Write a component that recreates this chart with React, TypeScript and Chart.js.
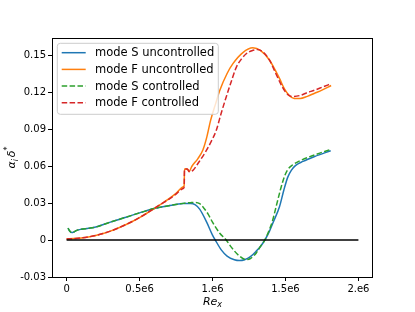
import React, { useEffect, useRef } from "react";
import { Chart, registerables } from "chart.js";

Chart.register(...registerables);

// ---- data (x in units of 1e6) ----
const sUncX = [0.01, 0.02, 0.035, 0.05, 0.07, 0.1, 0.15, 0.2, 0.3, 0.4, 0.5, 0.6, 0.7, 0.8, 0.85, 0.88, 0.912, 0.96, 1.0, 1.019, 1.06, 1.1, 1.15, 1.185, 1.22, 1.26, 1.3, 1.33, 1.359, 1.39, 1.42, 1.459, 1.49, 1.516, 1.54, 1.57, 1.62, 1.7, 1.81];
const sUncY = [0.0097, 0.0075, 0.006, 0.0065, 0.0078, 0.0087, 0.0095, 0.0105, 0.0145, 0.0182, 0.022, 0.0255, 0.0278, 0.0295, 0.0296, 0.0287, 0.025, 0.0145, 0.004, 0, -0.008, -0.013, -0.016, -0.0167, -0.016, -0.0135, -0.009, -0.005, 0, 0.007, 0.0155, 0.027, 0.041, 0.051, 0.0565, 0.0605, 0.0637, 0.0677, 0.0724];

const fUncX = [0, 0.05, 0.1, 0.15, 0.2, 0.25, 0.3, 0.35, 0.4, 0.45, 0.5, 0.55, 0.6, 0.65, 0.7, 0.75, 0.8, 0.806, 0.808, 0.828, 0.838, 0.86, 0.9, 0.934, 0.96, 0.987, 1.02, 1.049, 1.1, 1.14, 1.208, 1.276, 1.33, 1.39, 1.459, 1.493, 1.527, 1.56, 1.6, 1.65, 1.7, 1.75, 1.813];
const fUncY = [0.0008, 0.0012, 0.0017, 0.0025, 0.0037, 0.0053, 0.0072, 0.0095, 0.0122, 0.015, 0.0182, 0.0217, 0.0255, 0.0293, 0.0333, 0.0378, 0.0432, 0.0446, 0.0575, 0.0575, 0.0555, 0.06, 0.066, 0.073, 0.083, 0.097, 0.11, 0.121, 0.135, 0.143, 0.152, 0.1558, 0.1535, 0.146, 0.131, 0.1225, 0.117, 0.1148, 0.1147, 0.1165, 0.119, 0.1215, 0.1253];

const sCtrlX = [0.01, 0.02, 0.035, 0.05, 0.07, 0.1, 0.15, 0.2, 0.3, 0.4, 0.5, 0.6, 0.7, 0.8, 0.85, 0.88, 0.912, 0.94, 0.97, 1.0, 1.05, 1.094, 1.13, 1.18, 1.231, 1.26, 1.3, 1.33, 1.359, 1.39, 1.41, 1.436, 1.465, 1.493, 1.515, 1.545, 1.6, 1.7, 1.81];
const sCtrlY = [0.0097, 0.0075, 0.006, 0.0065, 0.0078, 0.0087, 0.0095, 0.0105, 0.0145, 0.0182, 0.022, 0.0255, 0.0278, 0.0297, 0.0303, 0.0305, 0.0295, 0.026, 0.021, 0.0145, 0.0055, 0, -0.006, -0.0125, -0.0159, -0.015, -0.0105, -0.005, 0, 0.0085, 0.015, 0.027, 0.0405, 0.0515, 0.057, 0.0605, 0.0643, 0.069, 0.0735];

const fCtrlX = [0, 0.05, 0.1, 0.15, 0.2, 0.25, 0.3, 0.35, 0.4, 0.45, 0.5, 0.55, 0.6, 0.65, 0.7, 0.75, 0.8, 0.806, 0.808, 0.826, 0.845, 0.87, 0.9, 0.95, 1.0, 1.026, 1.06, 1.094, 1.13, 1.163, 1.2, 1.231, 1.27, 1.31, 1.35, 1.39, 1.43, 1.47, 1.5, 1.527, 1.55, 1.6, 1.65, 1.7, 1.75, 1.813];
const fCtrlY = [0.0008, 0.0012, 0.0017, 0.0025, 0.0037, 0.0053, 0.0072, 0.0095, 0.0122, 0.015, 0.0182, 0.0217, 0.0255, 0.0293, 0.033, 0.0372, 0.0418, 0.043, 0.0575, 0.0575, 0.0552, 0.057, 0.062, 0.071, 0.082, 0.089, 0.103, 0.116, 0.129, 0.14, 0.147, 0.151, 0.1535, 0.1545, 0.152, 0.146, 0.136, 0.126, 0.12, 0.117, 0.1164, 0.1172, 0.1195, 0.1215, 0.1238, 0.1267];

const zeroX = [0, 2];
const zeroY = [0, 0];

const seriesLabels = ["mode S uncontrolled", "mode F uncontrolled", "mode S controlled", "mode F controlled"];
const seriesColors = ["#1f77b4", "#ff7f0e", "#2ca02c", "#d62728"];
const seriesDashed = [false, false, true, true];

const xTickValues = [0, 0.5, 1, 1.5, 2];
const xTickLabels = ["0", "0.5e6", "1.e6", "1.5e6", "2.e6"];
const yTickValues = [-0.03, 0, 0.03, 0.06, 0.09, 0.12, 0.15];
const yTickLabels = ["-0.03", "0", "0.03", "0.06", "0.09", "0.12", "0.15"];

const FONT = "'DejaVu Sans', sans-serif";

const zip = (xs: number[], ys: number[]) => xs.map((x, i) => ({ x, y: ys[i] }));

const decorPlugin = {
  id: "decor",
  afterDatasetsDraw(chart: any) {
    const ctx = chart.ctx as CanvasRenderingContext2D;
    const a = chart.chartArea;
    ctx.save();
    // frame
    ctx.strokeStyle = "#000";
    ctx.lineWidth = 1;
    ctx.strokeRect(Math.round(a.left) + 0.5, Math.round(a.top) + 0.5, Math.round(a.right - a.left) - 1, Math.round(a.bottom - a.top));

    // legend
    const bx = a.left + 5.3, by = a.top + 5.3, bw = 161, bh = 71;
    ctx.fillStyle = "rgba(255,255,255,0.8)";
    ctx.strokeStyle = "#cccccc";
    ctx.lineWidth = 1;
    ctx.beginPath();
    const r = 3;
    ctx.moveTo(bx + r, by);
    ctx.lineTo(bx + bw - r, by);
    ctx.quadraticCurveTo(bx + bw, by, bx + bw, by + r);
    ctx.lineTo(bx + bw, by + bh - r);
    ctx.quadraticCurveTo(bx + bw, by + bh, bx + bw - r, by + bh);
    ctx.lineTo(bx + r, by + bh);
    ctx.quadraticCurveTo(bx, by + bh, bx, by + bh - r);
    ctx.lineTo(bx, by + r);
    ctx.quadraticCurveTo(bx, by, bx + r, by);
    ctx.closePath();
    ctx.fill();
    ctx.stroke();
    ctx.font = `11.5px ${FONT}`;
    ctx.textBaseline = "middle";
    ctx.textAlign = "left";
    for (let i = 0; i < seriesLabels.length; i++) {
      const yy = by + 9.4 + i * 16.7;
      ctx.strokeStyle = seriesColors[i];
      ctx.lineWidth = 1.5;
      ctx.setLineDash(seriesDashed[i] ? [5.5, 2.4] : []);
      ctx.beginPath();
      ctx.moveTo(bx + 4.4, yy);
      ctx.lineTo(bx + 28.4, yy);
      ctx.stroke();
      ctx.setLineDash([]);
      ctx.fillStyle = "#000";
      ctx.fillText(seriesLabels[i], bx + 37.7, yy + 0.5);
    }

    // x title: Re_x
    ctx.fillStyle = "#000";
    ctx.textBaseline = "alphabetic";
    ctx.textAlign = "left";
    ctx.font = `italic 11px ${FONT}`;
    const reW = ctx.measureText("Re").width;
    ctx.font = `italic 8px ${FONT}`;
    const subW = ctx.measureText("x").width;
    const tw = reW + subW;
    const cx = (a.left + a.right) / 2 - tw / 2;
    ctx.font = `italic 11px ${FONT}`;
    ctx.fillText("Re", cx, 304.5);
    ctx.font = `italic 8px ${FONT}`;
    ctx.fillText("x", cx + reW, 307);

    // y title: alpha_i delta^*
    ctx.translate(15, (a.top + a.bottom) / 2);
    ctx.rotate(-Math.PI / 2);
    ctx.font = `italic 11px ${FONT}`;
    const aw = ctx.measureText("α").width;
    const dw = ctx.measureText("δ").width;
    ctx.font = `italic 8px ${FONT}`;
    const iw = ctx.measureText("i").width;
    const sw = ctx.measureText("*").width;
    const total = aw + iw + 2 + dw + sw;
    let px = -total / 2;
    ctx.font = `italic 11px ${FONT}`;
    ctx.fillText("α", px, 0);
    px += aw;
    ctx.font = `italic 8px ${FONT}`;
    ctx.fillText("i", px, 2.5);
    px += iw + 2;
    ctx.font = `italic 11px ${FONT}`;
    ctx.fillText("δ", px, 0);
    px += dw;
    ctx.font = `8px ${FONT}`;
    ctx.fillText("*", px, -5);
    ctx.restore();
  },
};

export default function App() {
  const ref = useRef<HTMLCanvasElement | null>(null);
  useEffect(() => {
    if (!ref.current) return;
    const mk = (i: number, xs: number[], ys: number[], order: number) => ({
      label: seriesLabels[i],
      data: zip(xs, ys),
      borderColor: seriesColors[i],
      backgroundColor: seriesColors[i],
      borderWidth: 1.5,
      borderDash: seriesDashed[i] ? [5.5, 2.4] : [],
      pointRadius: 0,
      fill: false,
      cubicInterpolationMode: "monotone" as const,
      order,
    });
    const chart = new Chart(ref.current, {
      type: "line",
      data: {
        datasets: [
          mk(0, sUncX, sUncY, 5),
          mk(1, fUncX, fUncY, 4),
          mk(2, sCtrlX, sCtrlY, 3),
          mk(3, fCtrlX, fCtrlY, 2),
          {
            label: "zero",
            data: zip(zeroX, zeroY),
            borderColor: "#000",
            backgroundColor: "#000",
            borderWidth: 1.5,
            pointRadius: 0,
            fill: false,
            order: 1,
          } as any,
        ],
      },
      options: {
        responsive: false,
        animation: false,
        events: [],
        layout: { padding: { left: 0, top: 38, right: 42, bottom: 0 } },
        plugins: { legend: { display: false }, tooltip: { enabled: false }, title: { display: false } },
        scales: {
          x: {
            type: "linear",
            min: -0.1,
            max: 2.1,
            afterFit: (s: any) => { s.height = 35; },
            afterBuildTicks: (s: any) => { s.ticks = xTickValues.map((v) => ({ value: v })); },
            ticks: {
              autoSkip: false,
              maxRotation: 0,
              padding: 2,
              color: "#000",
              font: { family: FONT, size: 10 },
              callback: (_v: any, i: number) => xTickLabels[i],
            },
            grid: { display: true, drawOnChartArea: false, drawTicks: true, tickLength: 4, color: "#000", lineWidth: 1 },
            border: { display: false },
          },
          y: {
            type: "linear",
            min: -0.03,
            max: 0.1638,
            afterFit: (s: any) => { s.width = 52; },
            afterBuildTicks: (s: any) => { s.ticks = yTickValues.map((v) => ({ value: v })); },
            ticks: {
              autoSkip: false,
              padding: 2,
              color: "#000",
              font: { family: FONT, size: 10 },
              callback: (_v: any, i: number) => yTickLabels[i],
            },
            grid: { display: true, drawOnChartArea: false, drawTicks: true, tickLength: 4, color: "#000", lineWidth: 1 },
            border: { display: false },
          },
        },
      },
      plugins: [decorPlugin],
    });
    return () => chart.destroy();
  }, []);
  return (
    <div style={{ position: "fixed", left: 0, top: 0, width: 415, height: 312, background: "#fff" }}>
      <canvas ref={ref} width={415} height={312} style={{ display: "block", width: 415, height: 312 }} />
    </div>
  );
}
